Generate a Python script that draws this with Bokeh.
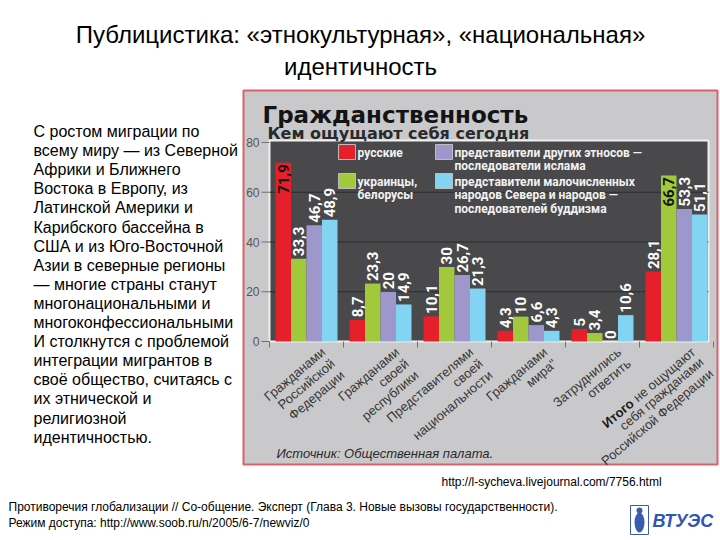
import math
from bokeh.plotting import figure
from bokeh.models import Range1d
from bokeh.core.properties import value
from bokeh.embed import file_html
from bokeh.resources import INLINE

# ---------------- data ----------------
categories = [
    "Гражданами\nРоссийской\nФедерации",
    "Гражданами\nсвоей\nреспублики",
    "Представителями\nсвоей\nнациональности",
    'Гражданами\nмира"',
    "Затруднились\nответить",
    "Итого не ощущают\nсебя гражданами\nРоссийской Федерации",
]
series_names = [
    "русские",
    "украинцы,\nбелорусы",
    "представители других этносов —\nпоследователи ислама",
    "представители малочисленных\nнародов Севера и народов —\nпоследователей буддизма",
]
russians = [71.9, 8.7, 10.1, 4.3, 5, 28.1]
ukr_bel = [33.3, 23.3, 30, 10, 3.4, 66.7]
islam = [46.7, 20, 26.7, 6.6, 0, 53.3]
buddhism = [48.9, 14.9, 21.3, 4.3, 10.6, 51.1]
y_ticks = [0, 20, 40, 60, 80]

chart_title = "Гражданственность"
chart_subtitle = "Кем ощущают себя сегодня"
source_text = "Источник: Общественная палата."
slide_title = "Публицистика: «этнокультурная», «национальная»\nидентичность"
side_text = [
    "С ростом миграции по",
    "всему миру — из Северной",
    "Африки и Ближнего",
    "Востока в Европу, из",
    "Латинской Америки и",
    "Карибского бассейна в",
    "США и из Юго-Восточной",
    "Азии в северные регионы",
    "— многие страны станут",
    "многонациональными и",
    "многоконфессиональными",
    "И столкнутся с проблемой",
    "интеграции мигрантов в",
    "своё общество, считаясь с",
    "их этнической и",
    "религиозной",
    "идентичностью.",
]
url_text = "http://l-sycheva.livejournal.com/7756.html"
footer_lines = [
    "Противоречия глобализации // Со-общение. Эксперт (Глава 3. Новые вызовы государственности).",
    "Режим доступа: http://www.soob.ru/n/2005/6-7/newviz/0",
]
logo_text = "ВТУЭС"

series = [russians, ukr_bel, islam, buddhism]
colors = ["#e5202a", "#a1c93b", "#9d97cb", "#82d4f2"]

# ---------------- layout helpers ----------------
W, H = 720, 540
OX, OY = 0, 0                 # page position of the canvas
X0, Y0 = 269.0, 341.0         # page pixel of data origin
SX, SY = 74.0, 2.4875         # pixels per data unit


def dx(px):
    return (px - X0) / SX


def dy(py):
    return (Y0 - py) / SY


p = figure(width=W, height=H,
           x_range=Range1d(dx(OX), dx(OX + W)),
           y_range=Range1d(dy(OY + H), dy(OY)),
           x_axis_location=None, y_axis_location=None,
           min_border=0, outline_line_color=None,
           background_fill_color="white", border_fill_color="white",
           output_backend="svg", toolbar_location=None)
p.grid.visible = False


def txt(x, y, s, size, color="#000000", font="Liberation Sans", style="normal",
        align="left", baseline="middle", angle=0.0, lh=1.2):
    p.text(x=[x], y=[y], text=[s], text_font=value(font),
           text_font_size=f"{size}px", text_font_style=style,
           text_color=color, text_align=align, text_baseline=baseline,
           angle=angle, text_line_height=lh)


# ---------------- chart picture ----------------
p.quad(left=dx(243), right=dx(717), top=dy(90), bottom=dy(464),
       fill_color="#c9c9cb", line_color="#d8636c", line_width=2)

panel_right = dx(708)
p.quad(left=0, right=panel_right, bottom=0, top=dy(140),
       fill_color="#49494b", line_color="#f0f0f0", line_width=2)

grid_vals = [v for v in y_ticks if 0 < v < 80]
p.segment(x0=[0] * len(grid_vals), x1=[panel_right] * len(grid_vals),
          y0=grid_vals, y1=grid_vals, line_color="#2c2c2c", line_width=1)

# left ticks
p.segment(x0=[dx(261)] * len(y_ticks), x1=[0] * len(y_ticks),
          y0=y_ticks, y1=y_ticks, line_color="#707070", line_width=1)
p.text(x=[dx(259)] * len(y_ticks), y=y_ticks, text=[str(v) for v in y_ticks],
       text_font=value("Liberation Sans"), text_font_size="12px",
       text_color="#555555", text_align="right", text_baseline="middle")

# bottom ticks at group boundaries
n = len(categories)
bounds = list(range(n + 1))
p.segment(x0=bounds, x1=bounds, y0=[0] * len(bounds), y1=[dy(347)] * len(bounds),
          line_color="#707070", line_width=1)

# bars
bw = 15.5 / SX
offsets = [-1.5 * bw, -0.5 * bw, 0.5 * bw, 1.5 * bw]
for k, vals in enumerate(series):
    xs = [i + 0.5 + offsets[k] for i in range(n)]
    p.vbar(x=xs, top=vals, bottom=0, width=bw, fill_color=colors[k],
           line_color=None)

# value labels
for k, vals in enumerate(series):
    xs = [i + 0.5 + offsets[k] for i in range(n)]
    labs = [f"{v:g}".replace(".", ",") for v in vals]
    out_x = [x for x, v in zip(xs, vals) if v < 60]
    out_y = [v + 1.0 for v in vals if v < 60]
    out_t = [t for t, v in zip(labs, vals) if v < 60]
    in_x = [x for x, v in zip(xs, vals) if v >= 60]
    in_y = [v - 0.6 for v in vals if v >= 60]
    in_t = [t for t, v in zip(labs, vals) if v >= 60]
    if out_x:
        p.text(x=out_x, y=out_y, text=out_t, angle=math.pi / 2,
               text_font=value("Roboto"), text_font_style="bold",
               text_font_size="15px", text_color="#ffffff",
               text_align="left", text_baseline="middle")
    if in_x:
        p.text(x=in_x, y=in_y, text=in_t, angle=math.pi / 2,
               text_font=value("Roboto"), text_font_style="bold",
               text_font_size="15px", text_color="#111111",
               text_align="right", text_baseline="middle")

# legend
leg_boxes = [(338, 144), (338, 173), (435, 144), (435, 173)]
for k, (lx, ly) in enumerate(leg_boxes):
    p.quad(left=dx(lx), right=dx(lx + 17), top=dy(ly), bottom=dy(ly + 15),
           fill_color=colors[k], line_color="#bdbdbd", line_width=1)
    txt(dx(lx + 19), dy(ly + 1), series_names[k], 12, color="#f2f2f2",
        font="Roboto", style="bold", baseline="top", lh=0.97)

# category labels
ang = math.radians(40)
ca, sa = math.cos(ang), math.sin(ang)
lab_font, lab_size, lab_color = "Liberation Sans", 13, "#363636"
for i, cat in enumerate(categories):
    ax = i + 1 - 25 / SX
    ay = dy(344)
    if i < n - 1:
        txt(ax, ay, cat, lab_size, color=lab_color, font=lab_font,
            align="right", baseline="top", angle=ang, lh=1.0)
    else:
        lines = cat.split("\n")
        bold_word, rest = lines[0].split(" ", 1)
        txt(ax, ay, rest, lab_size, color=lab_color, font=lab_font,
            align="right", baseline="top", angle=ang, lh=1.0)
        L = 80
        txt(ax - L * ca / SX, ay - L * sa / SY, bold_word, lab_size,
            color="#1a1a1a", font=lab_font, style="bold",
            align="right", baseline="top", angle=ang, lh=1.0)
        h = 13
        txt(ax + h * sa / SX, ay - h * ca / SY, "\n".join(lines[1:]), lab_size,
            color=lab_color, font=lab_font, align="right", baseline="top",
            angle=ang, lh=1.0)

txt(dx(276), dy(453), source_text, 13, color="#2a2a2a", style="italic")

txt(dx(262), dy(114), chart_title, 23, color="#141414", font="DejaVu Sans",
    style="bold", baseline="alphabetic")
txt(dx(267), dy(133), chart_subtitle, 16, color="#2a2a2a", font="DejaVu Sans",
    style="bold", baseline="alphabetic")

# ---------------- slide texts ----------------
txt(dx(360), dy(20), slide_title, 24, color="#000000", align="center",
    baseline="top", lh=1.2)

for j, line in enumerate(side_text):
    txt(dx(33), dy(131 + 19.1 * j), line, 16, color="#000000",
        baseline="alphabetic")

txt(dx(441), dy(481), url_text, 12, color="#000000")
for j, line in enumerate(footer_lines):
    txt(dx(8), dy(506 + 16 * j), line, 12, color="#000000")

# logo
p.quad(left=dx(630), right=dx(648), top=dy(505), bottom=dy(534),
       fill_color="#ffffff", line_color="#3a5bb0", line_width=1)
p.ellipse(x=[dx(639)], y=[dy(522)], width=[10 / SX], height=[20 / SY],
          fill_color="#3a5bb0", line_color=None)
p.ellipse(x=[dx(639)], y=[dy(510)], width=[6 / SX], height=[6 / SY],
          fill_color="#3a5bb0", line_color=None)
txt(dx(652), dy(520), logo_text, 18, color="#2f55b5", style="bold italic")

open("out.html", "w").write(file_html(p, INLINE))
